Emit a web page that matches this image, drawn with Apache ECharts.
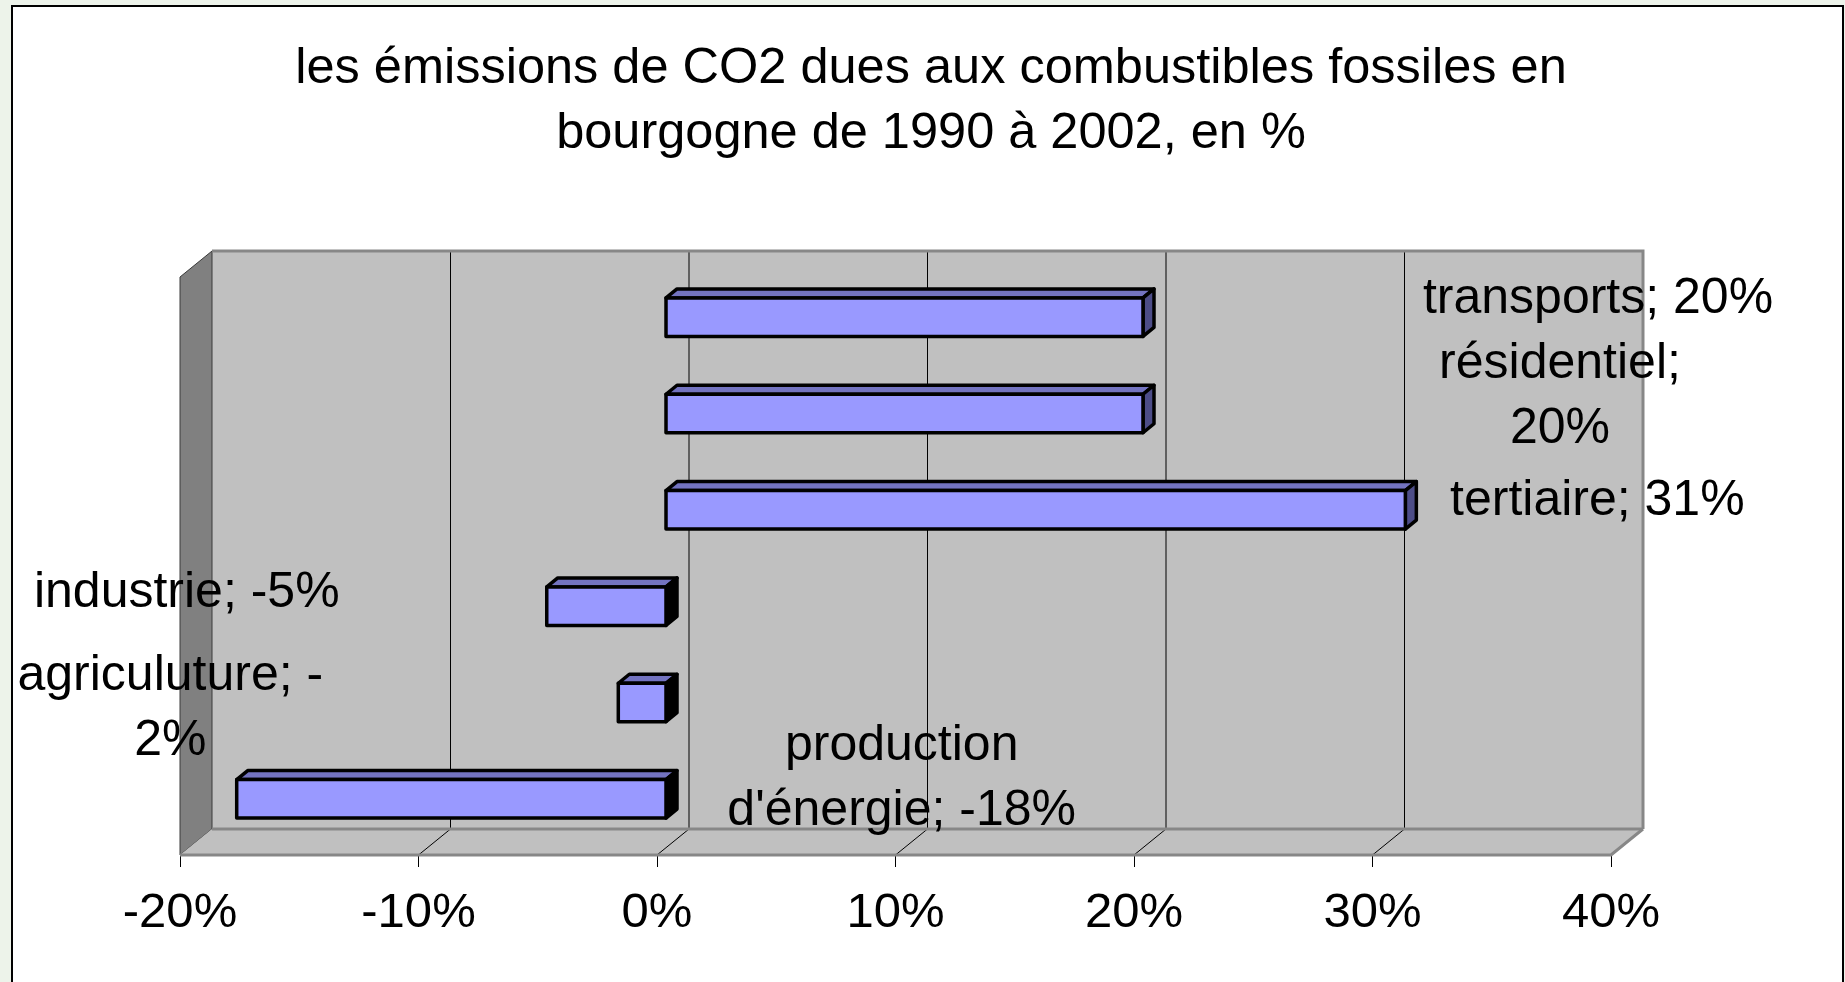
<!DOCTYPE html>
<html>
<head>
<meta charset="utf-8">
<title>émissions de CO2 en bourgogne</title>
<script src="https://cdn.jsdelivr.net/npm/echarts@6/dist/echarts.min.js"></script>
<style>
  html, body { margin: 0; padding: 0; background: #edf3ea; }
  #chart { width: 1845px; height: 982px; }
</style>
</head>
<body>
<div id="chart"></div>
<script>
// secteurs, du haut vers le bas
const categories = ['transports', 'résidentiel', 'tertiaire', 'industrie', 'agriculuture', "production d'énergie"]
// évolution 1990-2002 en %
const values = [20, 20, 31, -5, -2, -18]
// étiquettes telles qu'elles sont coupées sur le graphique
const dataLabels = ['transports; 20%', 'résidentiel;\n20%', 'tertiaire; 31%', 'industrie; -5%', 'agriculuture; -\n2%', "production\nd'énergie; -18%"]
const xTicks = [-20, -10, 0, 10, 20, 30, 40]

const FONT = '"Liberation Sans", Arial, sans-serif'
// profondeur de la boite 3D et des barres (px)
const DEPTH = [32, -26]
const BAR_SHIFT = [9, -8]
const BAR_DEPTH = [11, -9]
// position des étiquettes par rapport au bout de la barre
const labelOffset = [[464, -26], [426, -25], [201, -17], [-351, -21], [-439, -2], [674, -28]]

const chart = echarts.init(document.getElementById('chart'))

function renderFrame(params, api) {
  const cs = params.coordSys
  const L = cs.x, R = cs.x + cs.width, T = cs.y, B = cs.y + cs.height
  const dx = DEPTH[0], dy = DEPTH[1]
  const edge = { stroke: '#878787', lineWidth: 3, fill: null }
  const children = []
  // mur du fond
  children.push({ type: 'rect', shape: { x: L + dx, y: T + dy, width: cs.width, height: cs.height }, style: { fill: '#c0c0c0' } })
  xTicks.slice(1, -1).forEach(v => {
    const x = api.coord([v, 0])[0]
    children.push({ type: 'line', shape: { x1: x + dx, y1: T + dy, x2: x + dx, y2: B + dy }, style: { stroke: '#000', lineWidth: 1 } })
  })
  // mur de gauche
  children.push({ type: 'polygon', shape: { points: [[L, T], [L + dx, T + dy], [L + dx, B + dy], [L, B]] }, style: { fill: '#808080', stroke: '#3a3a3a', lineWidth: 1 } })
  // plancher
  children.push({ type: 'polygon', shape: { points: [[L, B], [L + dx, B + dy], [R + dx, B + dy], [R, B]] }, style: { fill: '#c0c0c0' } })
  xTicks.slice(1, -1).forEach(v => {
    const x = api.coord([v, 0])[0]
    children.push({ type: 'line', shape: { x1: x, y1: B, x2: x + dx, y2: B + dy }, style: { stroke: '#000', lineWidth: 1 } })
  })
  children.push({ type: 'polyline', shape: { points: [[L + dx, T + dy], [R + dx, T + dy], [R + dx, B + dy]] }, style: edge })
  children.push({ type: 'line', shape: { x1: L + dx, y1: B + dy, x2: R + dx, y2: B + dy }, style: edge })
  children.push({ type: 'polyline', shape: { points: [[L, B], [R, B], [R + dx, B + dy]] }, style: edge })
  return { type: 'group', children: children }
}

function renderBar(params, api) {
  const v = api.value(0)
  const i = api.value(1)
  const p0 = api.coord([0, i])
  const p1 = api.coord([v, i])
  const h = api.size([0, 1])[1] * 0.4
  const y0 = p0[1] - h / 2 + BAR_SHIFT[1]
  const y1 = y0 + h
  const xl = Math.min(p0[0], p1[0]) + BAR_SHIFT[0]
  const xr = Math.max(p0[0], p1[0]) + BAR_SHIFT[0]
  const dx = BAR_DEPTH[0], dy = BAR_DEPTH[1]
  const line = { stroke: '#000', lineWidth: 3.5, lineJoin: 'round' }
  const off = labelOffset[params.dataIndex]
  return {
    type: 'group',
    children: [
      { type: 'polygon', shape: { points: [[xl, y0], [xl + dx, y0 + dy], [xr + dx, y0 + dy], [xr, y0]] }, style: Object.assign({ fill: '#7373c0' }, line) },
      { type: 'polygon', shape: { points: [[xr, y0], [xr + dx, y0 + dy], [xr + dx, y1 + dy], [xr, y1]] }, style: Object.assign({ fill: v >= 0 ? '#4d4d88' : '#000' }, line) },
      { type: 'rect', shape: { x: xl, y: y0, width: xr - xl, height: h }, style: Object.assign({ fill: '#9999ff' }, line) },
      {
        type: 'text',
        x: p1[0] + off[0],
        y: p1[1] + off[1],
        style: {
          text: dataLabels[params.dataIndex],
          fill: '#000',
          font: '50px ' + FONT,
          lineHeight: 65,
          align: 'center',
          verticalAlign: 'middle'
        }
      }
    ]
  }
}

const option = {
  animation: false,
  backgroundColor: 'transparent',
  graphic: [
    {
      type: 'rect', z: -10,
      shape: { x: 12, y: 6, width: 1831, height: 990 },
      style: { fill: '#fff', stroke: '#000', lineWidth: 2 }
    },
    {
      type: 'text', x: 931, y: 102,
      style: {
        text: 'les émissions de CO2 dues aux combustibles fossiles en\nbourgogne de 1990 à 2002, en %',
        fill: '#000', font: '50.5px ' + FONT, lineHeight: 65,
        align: 'center', verticalAlign: 'middle'
      }
    }
  ],
  grid: { left: 180, top: 277, width: 1431, height: 578 },
  xAxis: {
    type: 'value',
    min: -20,
    max: 40,
    interval: 10,
    axisLine: { show: false },
    axisTick: { show: true, length: 12, lineStyle: { color: '#000', width: 1 } },
    splitLine: { show: false },
    axisLabel: { formatter: '{value}%', color: '#000', fontSize: 49, fontFamily: FONT, margin: 34 }
  },
  yAxis: {
    type: 'category',
    inverse: true,
    data: categories,
    axisLine: { show: false },
    axisTick: { show: false },
    axisLabel: { show: false },
    splitLine: { show: false }
  },
  series: [
    {
      type: 'custom',
      z: 1,
      silent: true,
      renderItem: renderFrame,
      data: [[0, 0]],
      encode: { x: 0, y: 1 }
    },
    {
      type: 'custom',
      z: 2,
      renderItem: renderBar,
      data: values.map((v, i) => [v, i]),
      encode: { x: 0, y: 1 }
    }
  ]
}

chart.setOption(option)
window.addEventListener('resize', function() {
  chart.resize()
})
</script>
</body>
</html>
